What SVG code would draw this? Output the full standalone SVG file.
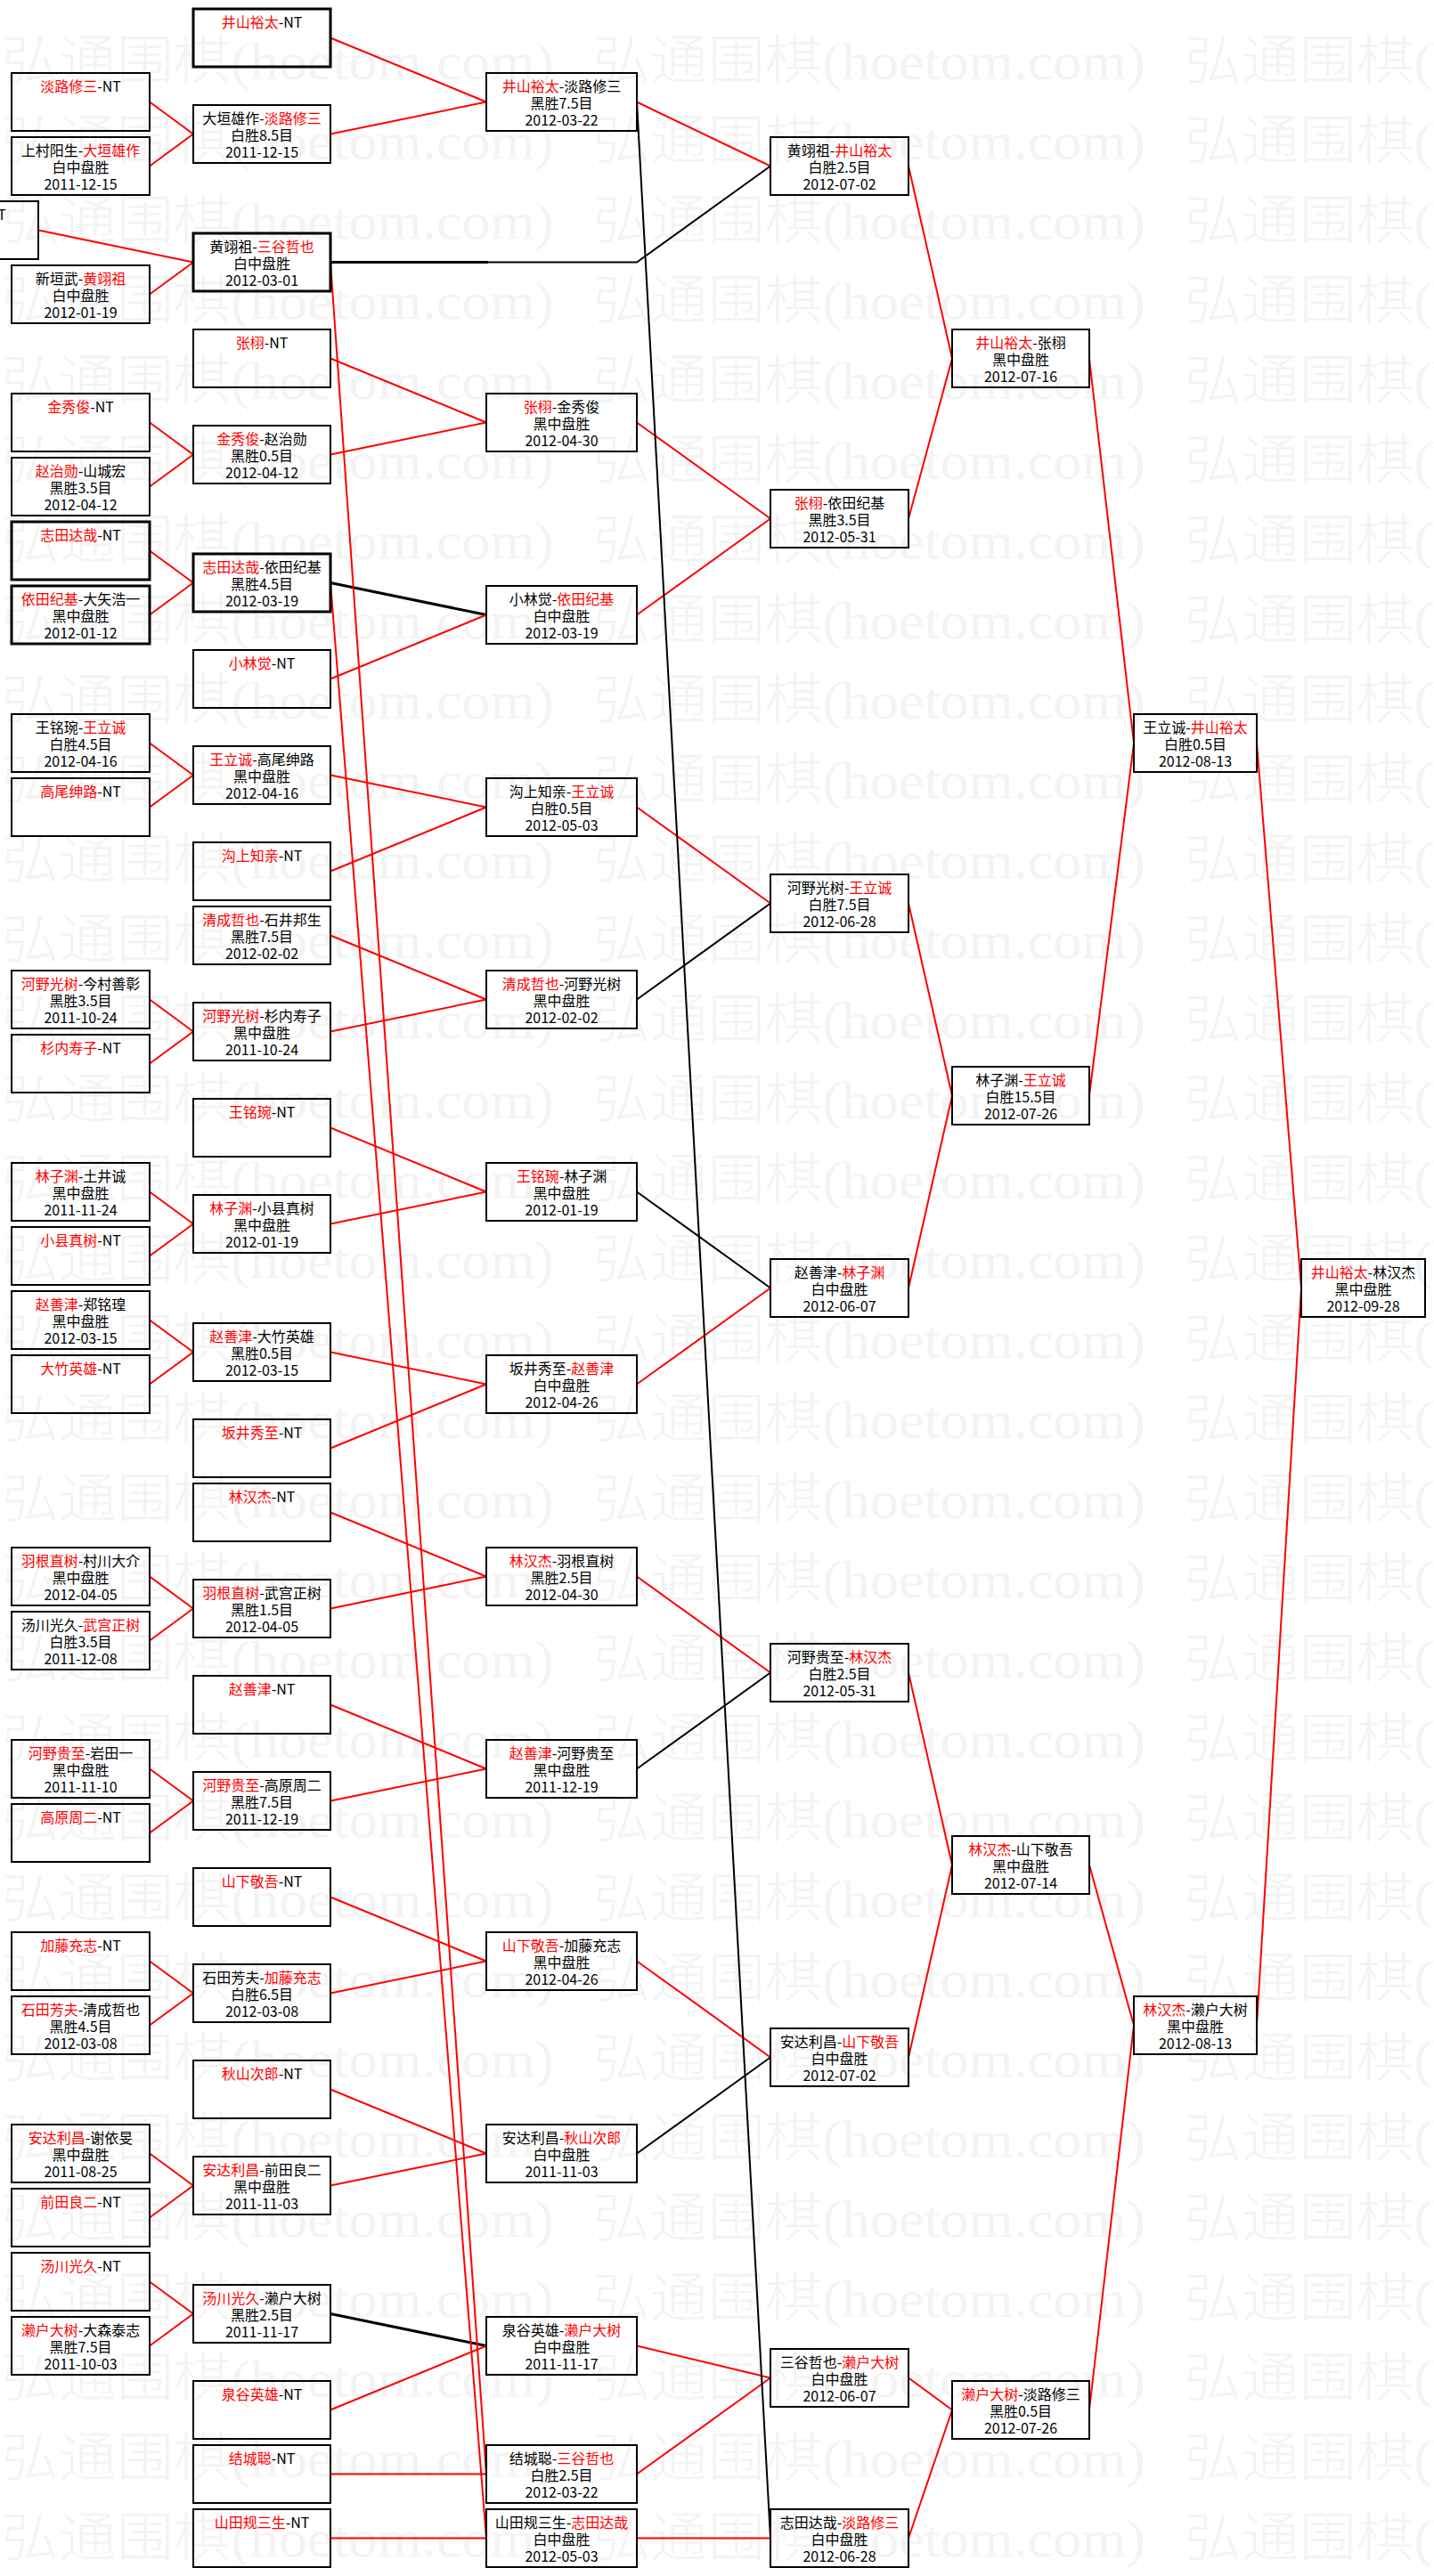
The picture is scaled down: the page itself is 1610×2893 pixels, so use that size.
<svg xmlns="http://www.w3.org/2000/svg" width="1610" height="2893" viewBox="0 0 1610 2893">
<defs>
<style>
.n rect{fill:none;stroke:#000;stroke-width:2}
.n.t rect{stroke-width:3}
text{font-family:"Noto Sans CJK SC","Noto Sans",sans-serif;font-size:16px;fill:#000;text-anchor:middle}
.r{fill:#f00}
.wm{font-family:"Liberation Serif","Noto Sans CJK SC",serif;font-size:60px;font-weight:300;fill:#f3f3f3;text-anchor:start}
#connectors line,#connectors polyline{fill:none;stroke-width:2}
#connectors .red{stroke:#f00}
#connectors .blk{stroke:#000}
#connectors .thk{stroke-width:3}
</style>
<pattern id="wmp" patternUnits="userSpaceOnUse" x="2" y="34" width="664" height="89.75">
<text class="wm" x="0" y="55" textLength="620" lengthAdjust="spacingAndGlyphs">弘通围棋(hoetom.com)</text>
</pattern>
</defs>
<rect width="1610" height="2893" fill="#fff"/>
<rect x="0" y="30" width="1610" height="2863" fill="url(#wmp)"/>
<g id="connectors">
<line class="red" x1="168" y1="114.5" x2="217" y2="150.5"/><line class="red" x1="168" y1="186.5" x2="217" y2="150.5"/>
<line class="red" x1="43" y1="258.5" x2="217" y2="294.5"/><line class="red" x1="168" y1="330.5" x2="217" y2="294.5"/>
<line class="red" x1="168" y1="474.5" x2="217" y2="510.5"/><line class="red" x1="168" y1="546.5" x2="217" y2="510.5"/>
<line class="red" x1="168" y1="618.5" x2="217" y2="654.5"/><line class="red" x1="168" y1="690.5" x2="217" y2="654.5"/>
<line class="red" x1="168" y1="834.5" x2="217" y2="870.5"/><line class="red" x1="168" y1="906.5" x2="217" y2="870.5"/>
<line class="red" x1="168" y1="1122.5" x2="217" y2="1158.5"/><line class="red" x1="168" y1="1194.5" x2="217" y2="1158.5"/>
<line class="red" x1="168" y1="1338.5" x2="217" y2="1374.5"/><line class="red" x1="168" y1="1410.5" x2="217" y2="1374.5"/>
<line class="red" x1="168" y1="1482.5" x2="217" y2="1518.5"/><line class="red" x1="168" y1="1554.5" x2="217" y2="1518.5"/>
<line class="red" x1="168" y1="1770.5" x2="217" y2="1806.5"/><line class="red" x1="168" y1="1842.5" x2="217" y2="1806.5"/>
<line class="red" x1="168" y1="1986.5" x2="217" y2="2022.5"/><line class="red" x1="168" y1="2058.5" x2="217" y2="2022.5"/>
<line class="red" x1="168" y1="2202.5" x2="217" y2="2238.5"/><line class="red" x1="168" y1="2274.5" x2="217" y2="2238.5"/>
<line class="red" x1="168" y1="2418.5" x2="217" y2="2454.5"/><line class="red" x1="168" y1="2490.5" x2="217" y2="2454.5"/>
<line class="red" x1="168" y1="2562.5" x2="217" y2="2598.5"/><line class="red" x1="168" y1="2634.5" x2="217" y2="2598.5"/>

<line class="red" x1="371" y1="42.5" x2="546" y2="114.5"/><line class="red" x1="371" y1="150.5" x2="546" y2="114.5"/>
<line class="red" x1="371" y1="402.5" x2="546" y2="474.5"/><line class="red" x1="371" y1="510.5" x2="546" y2="474.5"/>
<line class="blk thk" x1="371" y1="654.5" x2="546" y2="690.5"/><line class="red" x1="371" y1="762.5" x2="546" y2="690.5"/>
<line class="red" x1="371" y1="870.5" x2="546" y2="906.5"/><line class="red" x1="371" y1="978.5" x2="546" y2="906.5"/>
<line class="red" x1="371" y1="1050.5" x2="546" y2="1122.5"/><line class="red" x1="371" y1="1158.5" x2="546" y2="1122.5"/>
<line class="red" x1="371" y1="1266.5" x2="546" y2="1338.5"/><line class="red" x1="371" y1="1374.5" x2="546" y2="1338.5"/>
<line class="red" x1="371" y1="1518.5" x2="546" y2="1554.5"/><line class="red" x1="371" y1="1626.5" x2="546" y2="1554.5"/>
<line class="red" x1="371" y1="1698.5" x2="546" y2="1770.5"/><line class="red" x1="371" y1="1806.5" x2="546" y2="1770.5"/>
<line class="red" x1="371" y1="1914.5" x2="546" y2="1986.5"/><line class="red" x1="371" y1="2022.5" x2="546" y2="1986.5"/>
<line class="red" x1="371" y1="2130.5" x2="546" y2="2202.5"/><line class="red" x1="371" y1="2238.5" x2="546" y2="2202.5"/>
<line class="red" x1="371" y1="2346.5" x2="546" y2="2418.5"/><line class="red" x1="371" y1="2454.5" x2="546" y2="2418.5"/>
<line class="blk thk" x1="371" y1="2598.5" x2="546" y2="2634.5"/><line class="red" x1="371" y1="2706.5" x2="546" y2="2634.5"/>
<line class="red" x1="371" y1="2778.5" x2="546" y2="2778.5"/><line class="red" x1="371" y1="2850.5" x2="546" y2="2850.5"/>
<line class="red" x1="371" y1="294.5" x2="546" y2="2778.5"/><line class="red" x1="371" y1="654.5" x2="546" y2="2850.5"/>
<line class="blk thk" x1="371" y1="294.5" x2="548" y2="294.5"/>
<polyline class="blk" points="548,294.5 715,294.5 865,186.5"/>

<line class="red" x1="715" y1="114.5" x2="865" y2="186.5"/>
<line class="red" x1="715" y1="474.5" x2="865" y2="582.5"/><line class="red" x1="715" y1="690.5" x2="865" y2="582.5"/>
<line class="red" x1="715" y1="906.5" x2="865" y2="1014.5"/><line class="blk" x1="715" y1="1122.5" x2="865" y2="1014.5"/>
<line class="blk" x1="715" y1="1338.5" x2="865" y2="1446.5"/><line class="red" x1="715" y1="1554.5" x2="865" y2="1446.5"/>
<line class="red" x1="715" y1="1770.5" x2="865" y2="1878.5"/><line class="blk" x1="715" y1="1986.5" x2="865" y2="1878.5"/>
<line class="red" x1="715" y1="2202.5" x2="865" y2="2310.5"/><line class="blk" x1="715" y1="2418.5" x2="865" y2="2310.5"/>
<line class="red" x1="715" y1="2634.5" x2="865" y2="2670.5"/><line class="red" x1="715" y1="2778.5" x2="865" y2="2670.5"/>
<line class="red" x1="715" y1="2850.5" x2="865" y2="2850.5"/>
<line class="blk" x1="715" y1="114.5" x2="865" y2="2850.5"/>

<line class="red" x1="1020" y1="186.5" x2="1069" y2="402.5"/><line class="red" x1="1020" y1="582.5" x2="1069" y2="402.5"/>
<line class="red" x1="1020" y1="1014.5" x2="1069" y2="1230.5"/><line class="red" x1="1020" y1="1446.5" x2="1069" y2="1230.5"/>
<line class="red" x1="1020" y1="1878.5" x2="1069" y2="2094.5"/><line class="red" x1="1020" y1="2310.5" x2="1069" y2="2094.5"/>
<line class="red" x1="1020" y1="2670.5" x2="1069" y2="2706.5"/><line class="red" x1="1020" y1="2850.5" x2="1069" y2="2706.5"/>

<line class="red" x1="1223" y1="402.5" x2="1273" y2="834.5"/><line class="red" x1="1223" y1="1230.5" x2="1273" y2="834.5"/>
<line class="red" x1="1223" y1="2094.5" x2="1273" y2="2274.5"/><line class="red" x1="1223" y1="2706.5" x2="1273" y2="2274.5"/>

<line class="red" x1="1411" y1="834.5" x2="1461" y2="1446.5"/><line class="red" x1="1411" y1="2274.5" x2="1461" y2="1446.5"/>
</g>

<g id="nodes">
<!-- Column A -->
<g id="a1" class="n"><rect x="13" y="82" width="155" height="65"/><text x="90.5" y="103"><tspan class="r">淡路修三</tspan>-NT</text></g>
<g id="a2" class="n"><rect x="13" y="154" width="155" height="65"/><text x="90.5" y="175">上村阳生-<tspan class="r">大垣雄作</tspan></text><text x="90.5" y="194">白中盘胜</text><text x="90.5" y="213">2011-12-15</text></g>
<g id="a3" class="n"><rect x="-112" y="226" width="155" height="65"/><text x="2" y="247">T</text></g>
<g id="a4" class="n"><rect x="13" y="298" width="155" height="65"/><text x="90.5" y="319">新垣武-<tspan class="r">黄翊祖</tspan></text><text x="90.5" y="338">白中盘胜</text><text x="90.5" y="357">2012-01-19</text></g>
<g id="a6" class="n"><rect x="13" y="442" width="155" height="65"/><text x="90.5" y="463"><tspan class="r">金秀俊</tspan>-NT</text></g>
<g id="a7" class="n"><rect x="13" y="514" width="155" height="65"/><text x="90.5" y="535"><tspan class="r">赵治勋</tspan>-山城宏</text><text x="90.5" y="554">黑胜3.5目</text><text x="90.5" y="573">2012-04-12</text></g>
<g id="a8" class="n t"><rect x="13" y="586" width="155" height="65"/><text x="90.5" y="607"><tspan class="r">志田达哉</tspan>-NT</text></g>
<g id="a9" class="n t"><rect x="13" y="658" width="155" height="65"/><text x="90.5" y="679"><tspan class="r">依田纪基</tspan>-大矢浩一</text><text x="90.5" y="698">黑中盘胜</text><text x="90.5" y="717">2012-01-12</text></g>
<g id="a11" class="n"><rect x="13" y="802" width="155" height="65"/><text x="90.5" y="823">王铭琬-<tspan class="r">王立诚</tspan></text><text x="90.5" y="842">白胜4.5目</text><text x="90.5" y="861">2012-04-16</text></g>
<g id="a12" class="n"><rect x="13" y="874" width="155" height="65"/><text x="90.5" y="895"><tspan class="r">高尾绅路</tspan>-NT</text></g>
<g id="a15" class="n"><rect x="13" y="1090" width="155" height="65"/><text x="90.5" y="1111"><tspan class="r">河野光树</tspan>-今村善彰</text><text x="90.5" y="1130">黑胜3.5目</text><text x="90.5" y="1149">2011-10-24</text></g>
<g id="a16" class="n"><rect x="13" y="1162" width="155" height="65"/><text x="90.5" y="1183"><tspan class="r">杉内寿子</tspan>-NT</text></g>
<g id="a18" class="n"><rect x="13" y="1306" width="155" height="65"/><text x="90.5" y="1327"><tspan class="r">林子渊</tspan>-土井诚</text><text x="90.5" y="1346">黑中盘胜</text><text x="90.5" y="1365">2011-11-24</text></g>
<g id="a19" class="n"><rect x="13" y="1378" width="155" height="65"/><text x="90.5" y="1399"><tspan class="r">小县真树</tspan>-NT</text></g>
<g id="a20" class="n"><rect x="13" y="1450" width="155" height="65"/><text x="90.5" y="1471"><tspan class="r">赵善津</tspan>-郑铭瑝</text><text x="90.5" y="1490">黑中盘胜</text><text x="90.5" y="1509">2012-03-15</text></g>
<g id="a21" class="n"><rect x="13" y="1522" width="155" height="65"/><text x="90.5" y="1543"><tspan class="r">大竹英雄</tspan>-NT</text></g>
<g id="a24" class="n"><rect x="13" y="1738" width="155" height="65"/><text x="90.5" y="1759"><tspan class="r">羽根直树</tspan>-村川大介</text><text x="90.5" y="1778">黑中盘胜</text><text x="90.5" y="1797">2012-04-05</text></g>
<g id="a25" class="n"><rect x="13" y="1810" width="155" height="65"/><text x="90.5" y="1831">汤川光久-<tspan class="r">武宫正树</tspan></text><text x="90.5" y="1850">白胜3.5目</text><text x="90.5" y="1869">2011-12-08</text></g>
<g id="a27" class="n"><rect x="13" y="1954" width="155" height="65"/><text x="90.5" y="1975"><tspan class="r">河野贵至</tspan>-岩田一</text><text x="90.5" y="1994">黑中盘胜</text><text x="90.5" y="2013">2011-11-10</text></g>
<g id="a28" class="n"><rect x="13" y="2026" width="155" height="65"/><text x="90.5" y="2047"><tspan class="r">高原周二</tspan>-NT</text></g>
<g id="a30" class="n"><rect x="13" y="2170" width="155" height="65"/><text x="90.5" y="2191"><tspan class="r">加藤充志</tspan>-NT</text></g>
<g id="a31" class="n"><rect x="13" y="2242" width="155" height="65"/><text x="90.5" y="2263"><tspan class="r">石田芳夫</tspan>-清成哲也</text><text x="90.5" y="2282">黑胜4.5目</text><text x="90.5" y="2301">2012-03-08</text></g>
<g id="a33" class="n"><rect x="13" y="2386" width="155" height="65"/><text x="90.5" y="2407"><tspan class="r">安达利昌</tspan>-谢依旻</text><text x="90.5" y="2426">黑中盘胜</text><text x="90.5" y="2445">2011-08-25</text></g>
<g id="a34" class="n"><rect x="13" y="2458" width="155" height="65"/><text x="90.5" y="2479"><tspan class="r">前田良二</tspan>-NT</text></g>
<g id="a35" class="n"><rect x="13" y="2530" width="155" height="65"/><text x="90.5" y="2551"><tspan class="r">汤川光久</tspan>-NT</text></g>
<g id="a36" class="n"><rect x="13" y="2602" width="155" height="65"/><text x="90.5" y="2623"><tspan class="r">濑户大树</tspan>-大森泰志</text><text x="90.5" y="2642">黑胜7.5目</text><text x="90.5" y="2661">2011-10-03</text></g>

<!-- Column B -->
<g id="b0" class="n t"><rect x="217" y="10" width="154" height="65"/><text x="294" y="31"><tspan class="r">井山裕太</tspan>-NT</text></g>
<g id="b1" class="n"><rect x="217" y="118" width="154" height="65"/><text x="294" y="139">大垣雄作-<tspan class="r">淡路修三</tspan></text><text x="294" y="158">白胜8.5目</text><text x="294" y="177">2011-12-15</text></g>
<g id="b3" class="n t"><rect x="217" y="262" width="154" height="65"/><text x="294" y="283">黄翊祖-<tspan class="r">三谷哲也</tspan></text><text x="294" y="302">白中盘胜</text><text x="294" y="321">2012-03-01</text></g>
<g id="b5" class="n"><rect x="217" y="370" width="154" height="65"/><text x="294" y="391"><tspan class="r">张栩</tspan>-NT</text></g>
<g id="b6" class="n"><rect x="217" y="478" width="154" height="65"/><text x="294" y="499"><tspan class="r">金秀俊</tspan>-赵治勋</text><text x="294" y="518">黑胜0.5目</text><text x="294" y="537">2012-04-12</text></g>
<g id="b8" class="n t"><rect x="217" y="622" width="154" height="65"/><text x="294" y="643"><tspan class="r">志田达哉</tspan>-依田纪基</text><text x="294" y="662">黑胜4.5目</text><text x="294" y="681">2012-03-19</text></g>
<g id="b10" class="n"><rect x="217" y="730" width="154" height="65"/><text x="294" y="751"><tspan class="r">小林觉</tspan>-NT</text></g>
<g id="b11" class="n"><rect x="217" y="838" width="154" height="65"/><text x="294" y="859"><tspan class="r">王立诚</tspan>-高尾绅路</text><text x="294" y="878">黑中盘胜</text><text x="294" y="897">2012-04-16</text></g>
<g id="b13" class="n"><rect x="217" y="946" width="154" height="65"/><text x="294" y="967"><tspan class="r">沟上知亲</tspan>-NT</text></g>
<g id="b14" class="n"><rect x="217" y="1018" width="154" height="65"/><text x="294" y="1039"><tspan class="r">清成哲也</tspan>-石井邦生</text><text x="294" y="1058">黑胜7.5目</text><text x="294" y="1077">2012-02-02</text></g>
<g id="b15" class="n"><rect x="217" y="1126" width="154" height="65"/><text x="294" y="1147"><tspan class="r">河野光树</tspan>-杉内寿子</text><text x="294" y="1166">黑中盘胜</text><text x="294" y="1185">2011-10-24</text></g>
<g id="b17" class="n"><rect x="217" y="1234" width="154" height="65"/><text x="294" y="1255"><tspan class="r">王铭琬</tspan>-NT</text></g>
<g id="b18" class="n"><rect x="217" y="1342" width="154" height="65"/><text x="294" y="1363"><tspan class="r">林子渊</tspan>-小县真树</text><text x="294" y="1382">黑中盘胜</text><text x="294" y="1401">2012-01-19</text></g>
<g id="b20" class="n"><rect x="217" y="1486" width="154" height="65"/><text x="294" y="1507"><tspan class="r">赵善津</tspan>-大竹英雄</text><text x="294" y="1526">黑胜0.5目</text><text x="294" y="1545">2012-03-15</text></g>
<g id="b22" class="n"><rect x="217" y="1594" width="154" height="65"/><text x="294" y="1615"><tspan class="r">坂井秀至</tspan>-NT</text></g>
<g id="b23" class="n"><rect x="217" y="1666" width="154" height="65"/><text x="294" y="1687"><tspan class="r">林汉杰</tspan>-NT</text></g>
<g id="b24" class="n"><rect x="217" y="1774" width="154" height="65"/><text x="294" y="1795"><tspan class="r">羽根直树</tspan>-武宫正树</text><text x="294" y="1814">黑胜1.5目</text><text x="294" y="1833">2012-04-05</text></g>
<g id="b26" class="n"><rect x="217" y="1882" width="154" height="65"/><text x="294" y="1903"><tspan class="r">赵善津</tspan>-NT</text></g>
<g id="b27" class="n"><rect x="217" y="1990" width="154" height="65"/><text x="294" y="2011"><tspan class="r">河野贵至</tspan>-高原周二</text><text x="294" y="2030">黑胜7.5目</text><text x="294" y="2049">2011-12-19</text></g>
<g id="b29" class="n"><rect x="217" y="2098" width="154" height="65"/><text x="294" y="2119"><tspan class="r">山下敬吾</tspan>-NT</text></g>
<g id="b30" class="n"><rect x="217" y="2206" width="154" height="65"/><text x="294" y="2227">石田芳夫-<tspan class="r">加藤充志</tspan></text><text x="294" y="2246">白胜6.5目</text><text x="294" y="2265">2012-03-08</text></g>
<g id="b32" class="n"><rect x="217" y="2314" width="154" height="65"/><text x="294" y="2335"><tspan class="r">秋山次郎</tspan>-NT</text></g>
<g id="b33" class="n"><rect x="217" y="2422" width="154" height="65"/><text x="294" y="2443"><tspan class="r">安达利昌</tspan>-前田良二</text><text x="294" y="2462">黑中盘胜</text><text x="294" y="2481">2011-11-03</text></g>
<g id="b35" class="n"><rect x="217" y="2566" width="154" height="65"/><text x="294" y="2587"><tspan class="r">汤川光久</tspan>-濑户大树</text><text x="294" y="2606">黑胜2.5目</text><text x="294" y="2625">2011-11-17</text></g>
<g id="b37" class="n"><rect x="217" y="2674" width="154" height="65"/><text x="294" y="2695"><tspan class="r">泉谷英雄</tspan>-NT</text></g>
<g id="b38" class="n"><rect x="217" y="2746" width="154" height="65"/><text x="294" y="2767"><tspan class="r">结城聪</tspan>-NT</text></g>
<g id="b39" class="n"><rect x="217" y="2818" width="154" height="65"/><text x="294" y="2839"><tspan class="r">山田规三生</tspan>-NT</text></g>

<!-- Column C -->
<g id="c1" class="n"><rect x="546" y="82" width="169" height="65"/><text x="630.5" y="103"><tspan class="r">井山裕太</tspan>-淡路修三</text><text x="630.5" y="122">黑胜7.5目</text><text x="630.5" y="141">2012-03-22</text></g>
<g id="c6" class="n"><rect x="546" y="442" width="169" height="65"/><text x="630.5" y="463"><tspan class="r">张栩</tspan>-金秀俊</text><text x="630.5" y="482">黑中盘胜</text><text x="630.5" y="501">2012-04-30</text></g>
<g id="c9" class="n"><rect x="546" y="658" width="169" height="65"/><text x="630.5" y="679">小林觉-<tspan class="r">依田纪基</tspan></text><text x="630.5" y="698">白中盘胜</text><text x="630.5" y="717">2012-03-19</text></g>
<g id="c12" class="n"><rect x="546" y="874" width="169" height="65"/><text x="630.5" y="895">沟上知亲-<tspan class="r">王立诚</tspan></text><text x="630.5" y="914">白胜0.5目</text><text x="630.5" y="933">2012-05-03</text></g>
<g id="c15" class="n"><rect x="546" y="1090" width="169" height="65"/><text x="630.5" y="1111"><tspan class="r">清成哲也</tspan>-河野光树</text><text x="630.5" y="1130">黑中盘胜</text><text x="630.5" y="1149">2012-02-02</text></g>
<g id="c18" class="n"><rect x="546" y="1306" width="169" height="65"/><text x="630.5" y="1327"><tspan class="r">王铭琬</tspan>-林子渊</text><text x="630.5" y="1346">黑中盘胜</text><text x="630.5" y="1365">2012-01-19</text></g>
<g id="c21" class="n"><rect x="546" y="1522" width="169" height="65"/><text x="630.5" y="1543">坂井秀至-<tspan class="r">赵善津</tspan></text><text x="630.5" y="1562">白中盘胜</text><text x="630.5" y="1581">2012-04-26</text></g>
<g id="c24" class="n"><rect x="546" y="1738" width="169" height="65"/><text x="630.5" y="1759"><tspan class="r">林汉杰</tspan>-羽根直树</text><text x="630.5" y="1778">黑胜2.5目</text><text x="630.5" y="1797">2012-04-30</text></g>
<g id="c27" class="n"><rect x="546" y="1954" width="169" height="65"/><text x="630.5" y="1975"><tspan class="r">赵善津</tspan>-河野贵至</text><text x="630.5" y="1994">黑中盘胜</text><text x="630.5" y="2013">2011-12-19</text></g>
<g id="c30" class="n"><rect x="546" y="2170" width="169" height="65"/><text x="630.5" y="2191"><tspan class="r">山下敬吾</tspan>-加藤充志</text><text x="630.5" y="2210">黑中盘胜</text><text x="630.5" y="2229">2012-04-26</text></g>
<g id="c33" class="n"><rect x="546" y="2386" width="169" height="65"/><text x="630.5" y="2407">安达利昌-<tspan class="r">秋山次郎</tspan></text><text x="630.5" y="2426">白中盘胜</text><text x="630.5" y="2445">2011-11-03</text></g>
<g id="c36" class="n"><rect x="546" y="2602" width="169" height="65"/><text x="630.5" y="2623">泉谷英雄-<tspan class="r">濑户大树</tspan></text><text x="630.5" y="2642">白中盘胜</text><text x="630.5" y="2661">2011-11-17</text></g>
<g id="c38" class="n"><rect x="546" y="2746" width="169" height="65"/><text x="630.5" y="2767">结城聪-<tspan class="r">三谷哲也</tspan></text><text x="630.5" y="2786">白胜2.5目</text><text x="630.5" y="2805">2012-03-22</text></g>
<g id="c39" class="n"><rect x="546" y="2818" width="169" height="65"/><text x="630.5" y="2839">山田规三生-<tspan class="r">志田达哉</tspan></text><text x="630.5" y="2858">白中盘胜</text><text x="630.5" y="2877">2012-05-03</text></g>

<!-- Column D -->
<g id="d2" class="n"><rect x="865" y="154" width="155" height="65"/><text x="942.5" y="175">黄翊祖-<tspan class="r">井山裕太</tspan></text><text x="942.5" y="194">白胜2.5目</text><text x="942.5" y="213">2012-07-02</text></g>
<g id="d7" class="n"><rect x="865" y="550" width="155" height="65"/><text x="942.5" y="571"><tspan class="r">张栩</tspan>-依田纪基</text><text x="942.5" y="590">黑胜3.5目</text><text x="942.5" y="609">2012-05-31</text></g>
<g id="d13" class="n"><rect x="865" y="982" width="155" height="65"/><text x="942.5" y="1003">河野光树-<tspan class="r">王立诚</tspan></text><text x="942.5" y="1022">白胜7.5目</text><text x="942.5" y="1041">2012-06-28</text></g>
<g id="d19" class="n"><rect x="865" y="1414" width="155" height="65"/><text x="942.5" y="1435">赵善津-<tspan class="r">林子渊</tspan></text><text x="942.5" y="1454">白中盘胜</text><text x="942.5" y="1473">2012-06-07</text></g>
<g id="d25" class="n"><rect x="865" y="1846" width="155" height="65"/><text x="942.5" y="1867">河野贵至-<tspan class="r">林汉杰</tspan></text><text x="942.5" y="1886">白胜2.5目</text><text x="942.5" y="1905">2012-05-31</text></g>
<g id="d31" class="n"><rect x="865" y="2278" width="155" height="65"/><text x="942.5" y="2299">安达利昌-<tspan class="r">山下敬吾</tspan></text><text x="942.5" y="2318">白中盘胜</text><text x="942.5" y="2337">2012-07-02</text></g>
<g id="d36" class="n"><rect x="865" y="2638" width="155" height="65"/><text x="942.5" y="2659">三谷哲也-<tspan class="r">濑户大树</tspan></text><text x="942.5" y="2678">白中盘胜</text><text x="942.5" y="2697">2012-06-07</text></g>
<g id="d39" class="n"><rect x="865" y="2818" width="155" height="65"/><text x="942.5" y="2839">志田达哉-<tspan class="r">淡路修三</tspan></text><text x="942.5" y="2858">白中盘胜</text><text x="942.5" y="2877">2012-06-28</text></g>

<!-- Column E -->
<g id="e5" class="n"><rect x="1069" y="370" width="154" height="65"/><text x="1146" y="391"><tspan class="r">井山裕太</tspan>-张栩</text><text x="1146" y="410">黑中盘胜</text><text x="1146" y="429">2012-07-16</text></g>
<g id="e16" class="n"><rect x="1069" y="1198" width="154" height="65"/><text x="1146" y="1219">林子渊-<tspan class="r">王立诚</tspan></text><text x="1146" y="1238">白胜15.5目</text><text x="1146" y="1257">2012-07-26</text></g>
<g id="e28" class="n"><rect x="1069" y="2062" width="154" height="65"/><text x="1146" y="2083"><tspan class="r">林汉杰</tspan>-山下敬吾</text><text x="1146" y="2102">黑中盘胜</text><text x="1146" y="2121">2012-07-14</text></g>
<g id="e37" class="n"><rect x="1069" y="2674" width="154" height="65"/><text x="1146" y="2695"><tspan class="r">濑户大树</tspan>-淡路修三</text><text x="1146" y="2714">黑胜0.5目</text><text x="1146" y="2733">2012-07-26</text></g>

<!-- Column F -->
<g id="f11" class="n"><rect x="1273" y="802" width="138" height="65"/><text x="1342" y="823">王立诚-<tspan class="r">井山裕太</tspan></text><text x="1342" y="842">白胜0.5目</text><text x="1342" y="861">2012-08-13</text></g>
<g id="f31" class="n"><rect x="1273" y="2242" width="138" height="65"/><text x="1342" y="2263"><tspan class="r">林汉杰</tspan>-濑户大树</text><text x="1342" y="2282">黑中盘胜</text><text x="1342" y="2301">2012-08-13</text></g>

<!-- Column G -->
<g id="g19" class="n"><rect x="1461" y="1414" width="139" height="65"/><text x="1530.5" y="1435"><tspan class="r">井山裕太</tspan>-林汉杰</text><text x="1530.5" y="1454">黑中盘胜</text><text x="1530.5" y="1473">2012-09-28</text></g>
</g>
</svg>
